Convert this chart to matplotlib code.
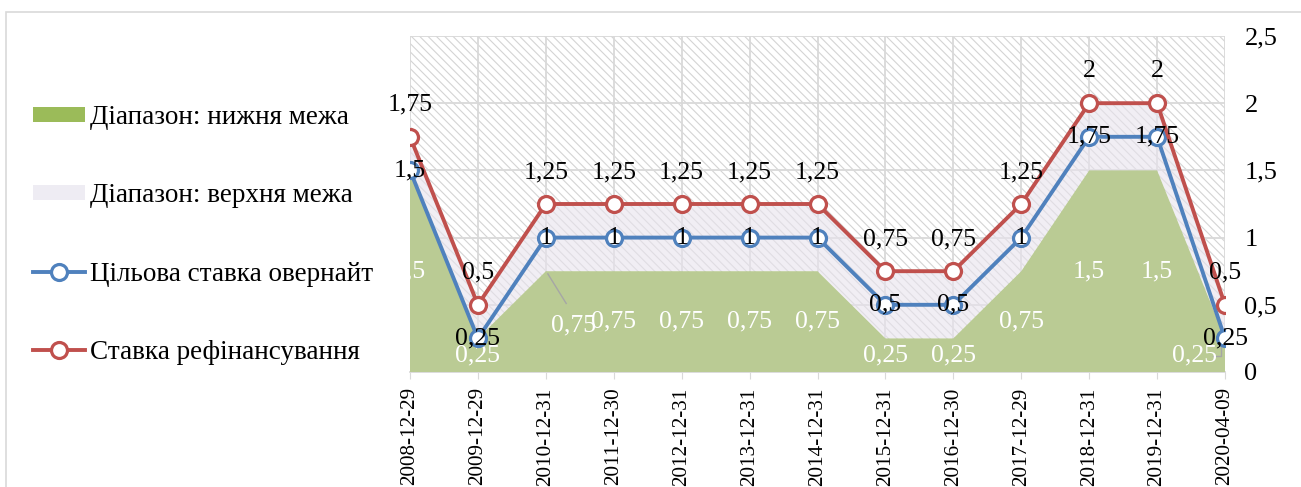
import matplotlib
matplotlib.use("Agg")
import matplotlib.pyplot as plt
from matplotlib.patches import Patch, Rectangle
from matplotlib.lines import Line2D

dates = ["2008-12-29", "2009-12-29", "2010-12-31", "2011-12-30", "2012-12-31",
         "2013-12-31", "2014-12-31", "2015-12-31", "2016-12-30", "2017-12-29",
         "2018-12-31", "2019-12-31", "2020-04-09"]
lower = [1.5, 0.25, 0.75, 0.75, 0.75, 0.75, 0.75, 0.25, 0.25, 0.75, 1.5, 1.5, 0.25]
overnight = [1.5, 0.25, 1, 1, 1, 1, 1, 0.5, 0.5, 1, 1.75, 1.75, 0.25]
refin = [1.75, 0.5, 1.25, 1.25, 1.25, 1.25, 1.25, 0.75, 0.75, 1.25, 2, 2, 0.5]
yticks = [0, 0.5, 1, 1.5, 2, 2.5]

names = ["Діапазон: нижня межа", "Діапазон: верхня межа",
         "Цільова ставка овернайт", "Ставка рефінансування"]

GREEN = "#9BBB59"
GREEN_AREA = "#BACB94"
BLUE = "#4F81BD"
RED = "#C0504D"
GRID = "#D9D9D9"


def fmt(v):
    return ("%g" % v).replace(".", ",")


plt.rcParams["font.family"] = ["Liberation Serif", "DejaVu Serif"]
plt.rcParams["hatch.color"] = "#D4D4D4"
plt.rcParams["hatch.linewidth"] = 0.8

fig = plt.figure(figsize=(13.01, 4.87), dpi=100)
W, H = 1301, 487

# chart border
fig.patches.append(Rectangle((6 / W, -0.1), 1.2, 1 - 12 / H + 0.1, transform=fig.transFigure,
                             fill=False, edgecolor="#D9D9D9", linewidth=1.2))

ax = fig.add_axes([410 / W, 1 - 372 / H, (1225 - 410) / W, (372 - 36) / H])
x = list(range(len(dates)))

ax.add_patch(Rectangle((0, 0), 1, 1, transform=ax.transAxes, facecolor="white",
                       hatch="\\\\\\\\", edgecolor="#D4D4D4", linewidth=0, zorder=0))

for yv in yticks:
    ax.axhline(yv, color=GRID, linewidth=1.3, zorder=1)
for xv in x:
    ax.axvline(xv, color=GRID, linewidth=1.3, zorder=1)

ax.fill_between(x, lower, refin, facecolor=(0.91, 0.89, 0.93, 0.6), linewidth=0, zorder=2)
ax.fill_between(x, 0, lower, facecolor=GREEN_AREA, linewidth=0, zorder=3)

lw, ms, mew = 2.8, 11.5, 2.3
ax.plot(x, overnight, color=BLUE, linewidth=lw, marker="o", markersize=ms,
        markerfacecolor="white", markeredgewidth=mew, zorder=5)
ax.plot(x, refin, color=RED, linewidth=lw, marker="o", markersize=ms,
        markerfacecolor="white", markeredgewidth=mew, zorder=6)

fs = 18.5
for i in x:
    # lower-range labels, white, half height
    dx = 0
    if i == 2:
        dx = 0.4
        ax.plot([i + 0.03, i + 0.3], [lower[i] - 0.02, lower[i] - 0.24], color="#A6A6A6",
                linewidth=1, zorder=4)
    if i == 12:
        dx = -0.45
        ax.plot([i - 0.17, i - 0.06, i - 0.06], [0.12, 0.12, 0.2], color="#A6A6A6",
                linewidth=1, zorder=4)
    ax.text(i + dx, lower[i] / 2 - (0.03 if i == 2 else 0), fmt(lower[i]), color="white",
            fontsize=fs, ha="center", va="center", zorder=4, clip_on=False)
    ax.text(i, overnight[i], fmt(overnight[i]), color="black", fontsize=fs,
            ha="center", va="center", zorder=7, clip_on=False)
    ax.annotate(fmt(refin[i]), (i, refin[i]), xytext=(0, 23), textcoords="offset points",
                ha="center", va="center", fontsize=fs, zorder=7, annotation_clip=False)

ax.set_xlim(0, 12)
ax.set_ylim(0, 2.5)
ax.set_xticks(x)
ax.set_xticklabels(dates, rotation=90, fontsize=15.2)
ax.tick_params(axis="x", length=5, color=GRID, pad=6)
ax.yaxis.tick_right()
ax.set_yticks(yticks)
ax.set_yticklabels([fmt(v) for v in yticks], fontsize=19)
ax.tick_params(axis="y", length=0, pad=14)
for s in ["top", "left", "right"]:
    ax.spines[s].set_visible(False)
ax.spines["bottom"].set_color(GRID)
ax.spines["bottom"].set_linewidth(1.3)

handles = [
    Patch(facecolor=GREEN, edgecolor="none"),
    Patch(facecolor="#EEECF3", edgecolor="none"),
    Line2D([], [], color=BLUE, linewidth=lw, marker="o", markersize=ms,
           markerfacecolor="white", markeredgewidth=mew),
    Line2D([], [], color=RED, linewidth=lw, marker="o", markersize=ms,
           markerfacecolor="white", markeredgewidth=mew),
]
fig.legend(handles, names, loc="upper left", bbox_to_anchor=(33 / W, 1 - 105 / H),
           frameon=False, fontsize=19.5, handlelength=1.92, handleheight=0.48,
           handletextpad=0.18, labelspacing=1.97, borderpad=0, borderaxespad=0)

fig.savefig("out.png", dpi=100)
